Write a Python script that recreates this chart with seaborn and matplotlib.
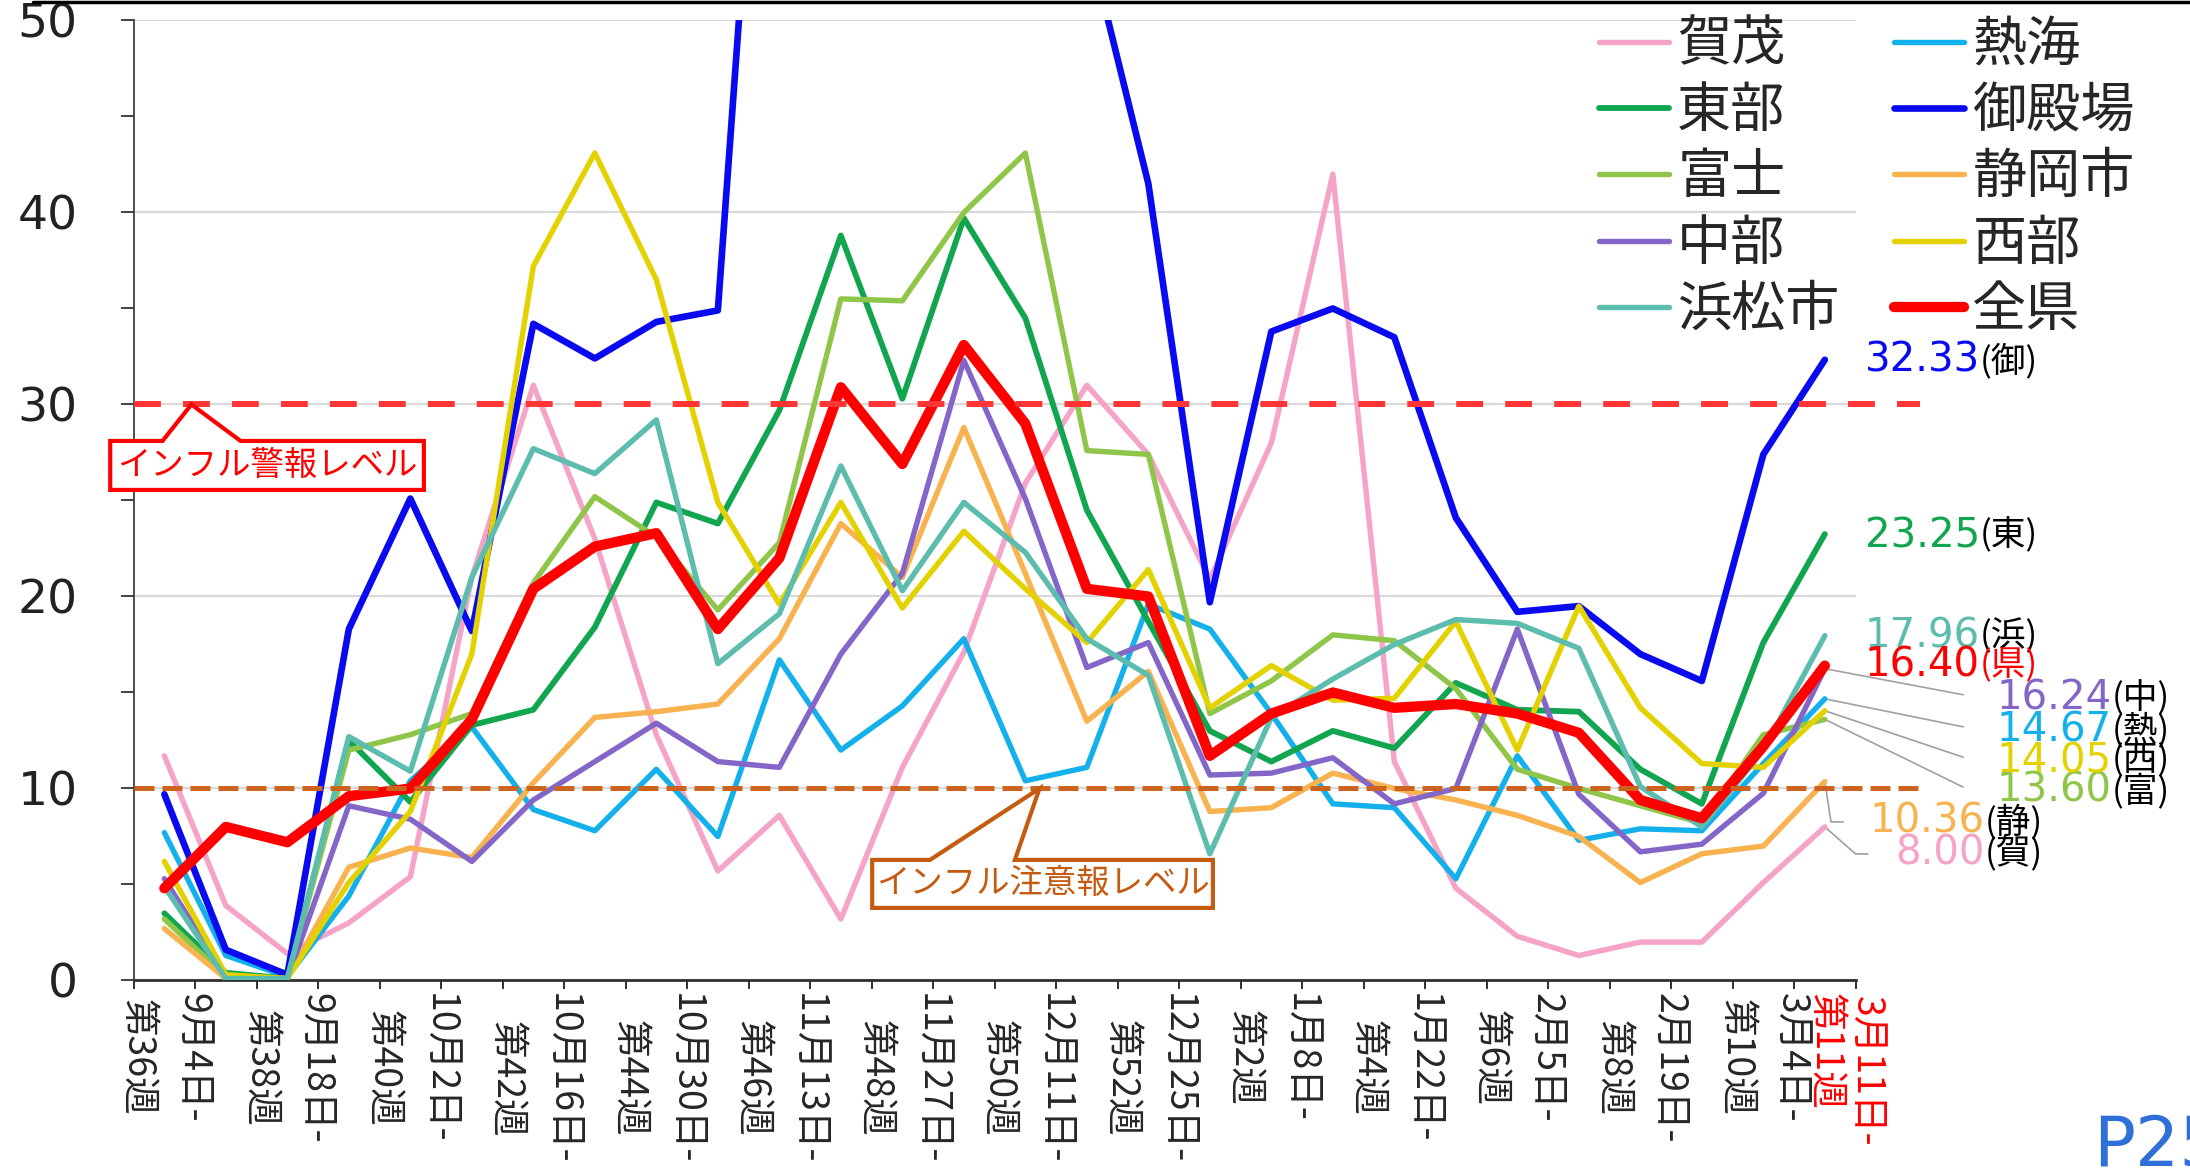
import pandas as pd
import seaborn as sns
import matplotlib.pyplot as plt
from matplotlib.lines import Line2D
from matplotlib.ticker import FixedLocator, FixedFormatter, MultipleLocator, NullFormatter

# weeks 36..52, 1..11 (2023-2024 season)
weeks = list(range(36, 53)) + list(range(1, 12))
week_dates = ['9月4日-', '9月18日-', '10月2日-', '10月16日-', '10月30日-', '11月13日-',
              '11月27日-', '12月11日-', '12月25日-', '1月8日-', '1月22日-', '2月5日-',
              '2月19日-', '3月4日-']
last_date = '3月11日-'

kamo = [11.7, 3.9, 1.4, 3.0, 5.4, 21.0, 31.0, 23.0, 12.8, 5.7, 8.6, 3.2, 11.1, 17.1,
        25.9, 31.0, 27.4, 20.9, 28.0, 42.0, 11.4, 4.8, 2.3, 1.3, 2.0, 2.0, 5.1, 8.00]
atami = [7.7, 1.3, 0.2, 4.4, 10.4, 13.2, 8.9, 7.8, 11.0, 7.5, 16.7, 12.0, 14.3, 17.8,
         10.4, 11.1, 19.6, 18.3, 13.9, 9.2, 9.0, 5.3, 11.7, 7.3, 7.9, 7.8, 11.3, 14.67]
tobu = [3.5, 0.4, 0.1, 12.5, 9.3, 13.3, 14.1, 18.4, 24.9, 23.8, 29.7, 38.8, 30.3, 39.7,
        34.5, 24.5, 18.7, 13.0, 11.4, 13.0, 12.1, 15.5, 14.1, 14.0, 11.0, 9.2, 17.6, 23.25]
gotemba = [9.7, 1.6, 0.3, 18.3, 25.1, 18.2, 34.2, 32.4, 34.3, 34.9, 79.0, 90.0, 88.0, 80.0,
           70.0, 54.5, 41.5, 19.7, 33.8, 35.0, 33.5, 24.1, 19.2, 19.5, 17.0, 15.6, 27.4, 32.33]
fuji = [3.2, 0.2, 0.1, 12.0, 12.8, 13.9, 20.7, 25.2, 23.1, 19.3, 22.8, 35.5, 35.4, 40.0,
        43.1, 27.6, 27.4, 13.9, 15.6, 18.0, 17.7, 15.2, 11.0, 10.0, 9.1, 8.2, 12.8, 13.60]
shizuoka = [2.7, 0.1, 0.1, 5.9, 6.9, 6.4, 10.3, 13.7, 14.0, 14.4, 17.8, 23.8, 21.0, 28.8,
            21.2, 13.5, 16.1, 8.8, 9.0, 10.8, 10.0, 9.4, 8.6, 7.5, 5.1, 6.6, 7.0, 10.36]
chubu = [5.3, 0.2, 0.1, 9.1, 8.4, 6.2, 9.4, 11.4, 13.4, 11.4, 11.1, 17.0, 21.2, 32.3,
         25.1, 16.3, 17.6, 10.7, 10.8, 11.6, 9.2, 10.0, 18.3, 9.7, 6.7, 7.1, 9.75, 16.24]
seibu = [6.2, 0.3, 0.1, 5.1, 8.8, 17.0, 37.2, 43.1, 36.5, 24.9, 19.6, 24.9, 19.4, 23.4,
         20.4, 17.6, 21.4, 14.2, 16.4, 14.6, 14.7, 18.7, 12.0, 19.5, 14.2, 11.3, 11.1, 14.05]
hamamatsu = [4.9, 0.1, 0.1, 12.7, 10.9, 21.0, 27.7, 26.4, 29.2, 16.5, 19.1, 26.8, 20.3, 24.9,
             22.3, 17.8, 15.9, 6.6, 13.7, 15.7, 17.5, 18.8, 18.6, 17.3, 10.1, 8.0, 12.0, 17.96]
zenken = [4.8, 8.0, 7.2, 9.6, 10.0, 13.6, 20.4, 22.6, 23.3, 18.3, 22.0, 30.9, 26.9, 33.1,
          29.0, 20.4, 20.0, 11.7, 13.9, 15.0, 14.2, 14.4, 13.9, 12.9, 9.4, 8.45, 12.2, 16.40]

regions = ['賀茂', '熱海', '東部', '御殿場', '富士', '静岡市', '中部', '西部', '浜松市', '全県']
series = [kamo, atami, tobu, gotemba, fuji, shizuoka, chubu, seibu, hamamatsu, zenken]
short = ['賀', '熱', '東', '御', '富', '静', '中', '西', '浜', '県']

alert_level = 30
caution_level = 10

colors = {'賀茂': '#F5A3C7', '熱海': '#14B0EC', '東部': '#11A54F', '御殿場': '#0A0AF0',
          '富士': '#8FC64A', '静岡市': '#F8B24F', '中部': '#8466C8', '西部': '#E3D100',
          '浜松市': '#5CBDAE', '全県': '#FF0000'}
widths = {r: 3.9 for r in regions}
widths['東部'] = 4.2
widths['御殿場'] = 4.8
widths['全県'] = 7.4

rows = []
for name, vals in zip(regions, series):
    for i, v in enumerate(vals):
        rows.append((i, v, name))
df = pd.DataFrame(rows, columns=['idx', '定点当たり', '地域'])

sns.set_theme(style='white')
plt.rcParams['font.family'] = ['Noto Sans CJK JP', 'DejaVu Sans']

fig = plt.figure(figsize=(21.9, 11.71), dpi=100)
ax = fig.add_axes([0.0610, 0.1627, 0.7863, 0.8198])

sns.lineplot(data=df, x='idx', y='定点当たり', hue='地域', size='地域', sizes=widths,
             palette=colors, hue_order=regions, size_order=regions, legend=False,
             ax=ax, sort=False, solid_capstyle='round', solid_joinstyle='round', zorder=3)
ax.set_xlabel('')
ax.set_ylabel('')

# axes / ticks
n = len(weeks)
ax.set_xlim(-0.5, n - 0.5)
ax.set_ylim(0, 50)
ax.xaxis.set_major_locator(FixedLocator([i - 0.5 for i in range(n + 1)]))
ax.xaxis.set_major_formatter(NullFormatter())
tick_idx = list(range(0, n - 1, 2)) + [n - 1]
tick_txt = [f'{d}\n第{weeks[i]}週' for i, d in zip(range(0, n - 1, 2), week_dates)] + [f'第{weeks[-1]}週']
ax.xaxis.set_minor_locator(FixedLocator(tick_idx))
ax.xaxis.set_minor_formatter(FixedFormatter(tick_txt))
ax.tick_params(axis='x', which='major', direction='out', length=6.5, width=1.4, color='#303030', bottom=True)
ax.tick_params(axis='x', which='minor', length=0, pad=9, labelsize=27, labelrotation=270, bottom=True)
for lab in ax.get_xticklabels(minor=True):
    lab.set_linespacing(1.55)
ax.get_xticklabels(minor=True)[-1].set_color('red')
ax.text(27.66, -0.016, last_date, transform=ax.get_xaxis_transform(), rotation=270,
        ha='center', va='top', color='red', fontsize=27)

ax.yaxis.set_major_locator(MultipleLocator(10))
ax.yaxis.set_minor_locator(MultipleLocator(5))
ax.tick_params(axis='y', which='both', direction='out', length=9.4, width=1.4, color='#404040', left=True)
ax.tick_params(axis='y', which='major', labelsize=34, pad=31)
for lab in ax.get_yticklabels():
    lab.set_family('DejaVu Sans')
    lab.set_color('#222222')

ax.yaxis.grid(True, which='major', color='#D9D9D9', lw=1.6)
ax.xaxis.grid(False)
ax.set_axisbelow(True)
for s in ['top', 'right']:
    ax.spines[s].set_visible(False)
ax.spines['left'].set_color('#404040')
ax.spines['left'].set_linewidth(1.3)
ax.spines['bottom'].set_color('#303030')
ax.spines['bottom'].set_linewidth(2)

# alert / caution levels
ax.plot([-0.5, n + 0.55], [alert_level, alert_level], color='#FF3535', lw=4.3,
        dashes=(4.5, 3.7), clip_on=False, zorder=4)
ax.plot([-0.5, n + 0.55], [caution_level, caution_level], color='#CC6420', lw=3.6,
        dashes=(4.0, 1.6), clip_on=False, zorder=4)

# callout boxes: (left, right, bottom, top), pointer base, pointer tip
callouts = [
    dict(text='インフル警報レベル', color='red', box=(-0.88, 4.22, 25.55, 28.1),
         base=(-0.03, 1.24), tip=(0.44, alert_level)),
    dict(text='インフル注意報レベル', color='#C55A11', box=(11.51, 17.05, 3.78, 6.28),
         base=(12.45, 13.83), tip=(14.23, caution_level)),
]
for c in callouts:
    x0, x1, y0, y1 = c['box']
    b0, b1 = c['base']
    tx, ty = c['tip']
    ax.fill([x0, x0, b0, tx, b1, x1, x1], [y0, y1, y1, ty, y1, y1, y0], fc='white',
            ec=c['color'], lw=3, clip_on=False, zorder=6, joinstyle='miter')
    ax.text((x0 + x1) / 2, (y0 + y1) / 2, c['text'], color=c['color'], fontsize=24,
            ha='center', va='center', zorder=7)

# end-of-line value labels
label_y = {'御': 32.27, '東': 23.15, '浜': 17.94, '県': 16.38, '中': 14.68,
           '熱': 13.01, '西': 11.43, '富': 9.87, '静': 8.26, '賀': 6.59}
label_x = {'御': 29.52, '東': 29.52, '浜': 29.52, '県': 29.52, '中': 31.67,
           '熱': 31.67, '西': 31.67, '富': 31.67, '静': 29.6, '賀': 29.6}
for name, vals, s in zip(regions, series, short):
    xe, ye = label_x[s], label_y[s]
    ax.text(xe, ye, f'{vals[-1]:.2f}', color=colors[name], fontsize=29, family='DejaVu Sans',
            ha='right', va='center', clip_on=False)
    ax.text(xe, ye, f'({s})', color='red' if s == '県' else 'black', fontsize=25,
            ha='left', va='center', clip_on=False)
    last = vals[-1]
    if s in ['中', '熱', '西', '富']:
        ax.plot([n - 1, 29.25], [last, ye + 0.2], color='#A0A0A0', lw=1.2, clip_on=False, zorder=2)
    elif s == '静':
        ax.plot([n - 1, 27.1, 27.3], [last, ye, ye], color='#A0A0A0', lw=1.2, clip_on=False, zorder=2)
    elif s == '賀':
        ax.plot([n - 1, 27.5, 27.7], [last, ye, ye], color='#A0A0A0', lw=1.2, clip_on=False, zorder=2)

# legend (two columns, filled column-wise)
leg_order = ['賀茂', '東部', '富士', '中部', '浜松市', '熱海', '御殿場', '静岡市', '西部', '全県']
handles = [Line2D([], [], color=colors[r], lw=widths[r], solid_capstyle='round') for r in leg_order]
fig.legend(handles, leg_order, loc='upper left', bbox_to_anchor=(0.730, 0.985), ncol=2,
           frameon=False, fontsize=39, handlelength=1.3, handletextpad=0.15,
           columnspacing=1.0, labelspacing=0.21, borderpad=0, borderaxespad=0)

fig.add_artist(Line2D([33 / 2190, 1], [1 - 1.5 / 1171, 1 - 1.5 / 1171], transform=fig.transFigure,
                      color='black', lw=2.5))
fig.text(2093 / 2190, 5 / 1171, 'P25', color='#2E6FD8', fontsize=50, family='DejaVu Sans',
         ha='left', va='baseline')

fig.savefig('out.png', dpi=100, facecolor='white')
